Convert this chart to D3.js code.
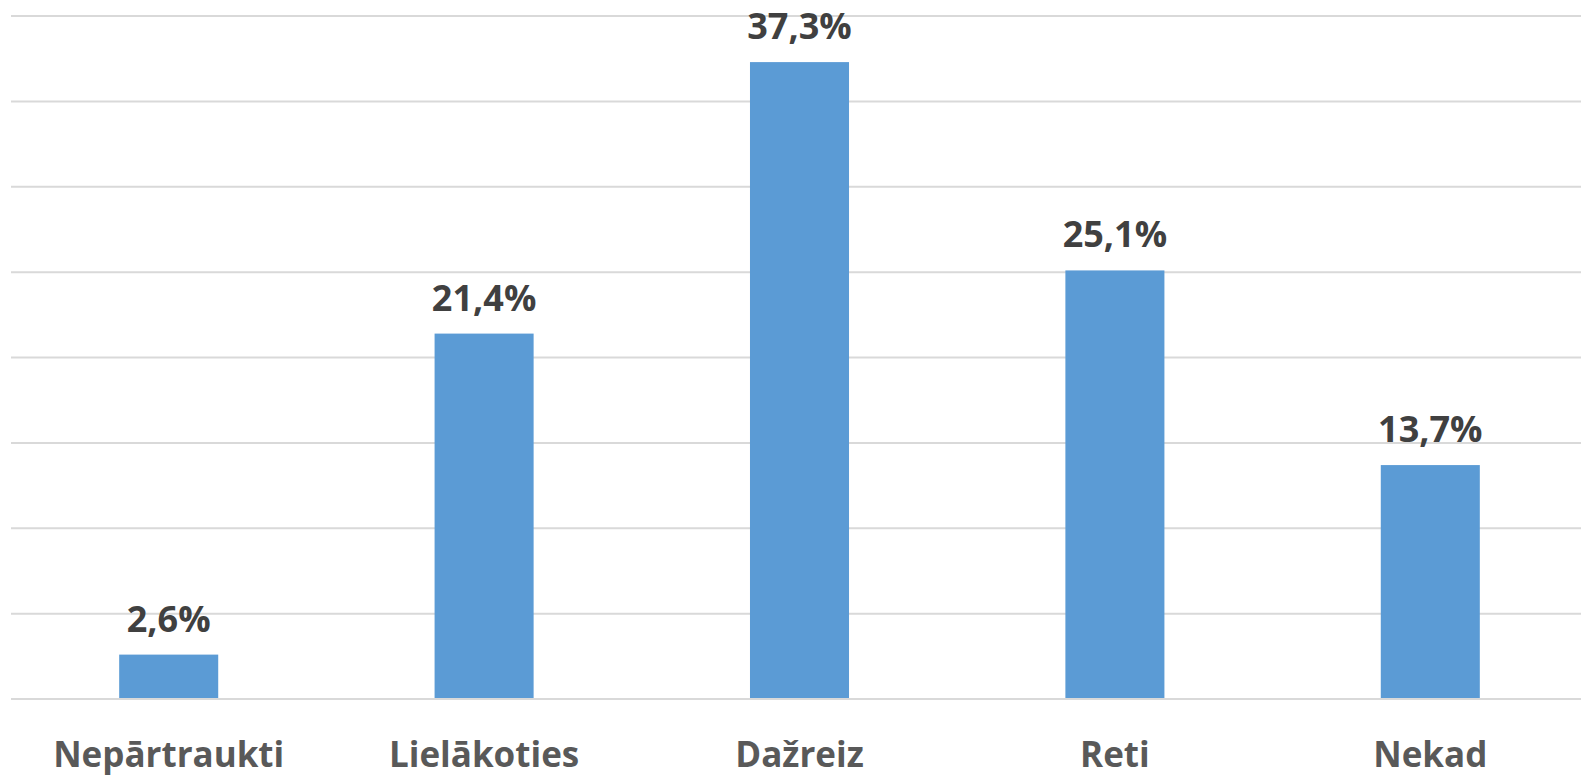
<!DOCTYPE html>
<html><head><meta charset="utf-8">
<script src="https://cdn.jsdelivr.net/npm/d3@7"></script>
<style>html,body{margin:0;padding:0;background:#fff;overflow:hidden}</style>
</head><body>
<svg id="c" width="1581" height="775"></svg>
<script>
const categories = ["Nepārtraukti", "Lielākoties", "Dažreiz", "Reti", "Nekad"];
const values = [2.6, 21.4, 37.3, 25.1, 13.7];
const labels = ["2,6%", "21,4%", "37,3%", "25,1%", "13,7%"];
const gridTicks = [0, 5, 10, 15, 20, 25, 30, 35, 40];

const svg = d3.select("#c");
const W = 1581;
const left = 11, step = 315.4;
const x = d3.scaleBand().domain(categories).range([left, left + step * categories.length]).paddingInner(0.686).paddingOuter(0.343);
const y = d3.scaleLinear().domain([0, 40]).range([699, 16]);

svg.append("g").selectAll("line").data(gridTicks).join("line")
  .attr("x1", left).attr("x2", W)
  .attr("y1", d => y(d)).attr("y2", d => y(d))
  .attr("stroke", "#d9d9d9").attr("stroke-width", 2);

svg.append("g").selectAll("rect").data(values).join("rect")
  .attr("x", (d, i) => x(categories[i]))
  .attr("width", x.bandwidth())
  .attr("y", d => y(d))
  .attr("height", d => y(0) - y(d) - 1)
  .attr("fill", "#5b9bd5");

svg.append("g").selectAll("text").data(values).join("text")
  .attr("x", (d, i) => x(categories[i]) + x.bandwidth() / 2)
  .attr("y", d => y(d) - 23)
  .attr("text-anchor", "middle")
  .attr("font-family", "'Open Sans', sans-serif")
  .attr("font-weight", "bold")
  .attr("font-size", 36)
  .attr("fill", "#404040")
  .text((d, i) => labels[i]);

svg.append("g").selectAll("text").data(categories).join("text")
  .attr("x", d => x(d) + x.bandwidth() / 2)
  .attr("y", 767)
  .attr("text-anchor", "middle")
  .attr("font-family", "'Open Sans', sans-serif")
  .attr("font-weight", "bold")
  .attr("font-size", 35)
  .attr("fill", "#595959")
  .text(d => d);
</script>
</body></html>
